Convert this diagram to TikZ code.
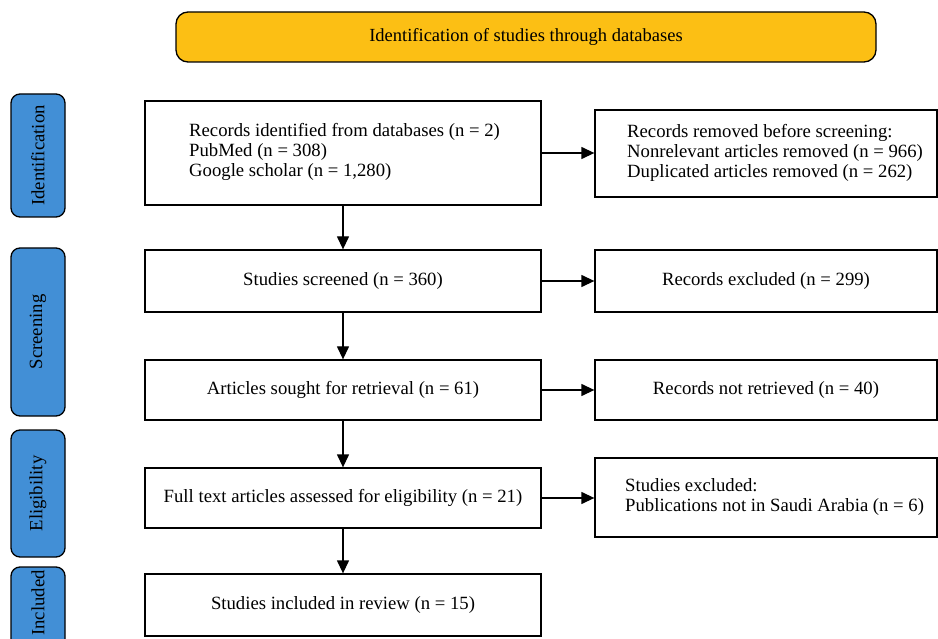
\documentclass[tikz,border=0pt]{standalone}
\usepackage{fontspec}
\setmainfont{Liberation Serif}
\usetikzlibrary{arrows.meta}
\definecolor{topfill}{HTML}{FCBF14}
\definecolor{sidefill}{HTML}{428FD6}
\newcommand{\bodyfont}{\fontsize{18.7}{20}\selectfont}
\begin{document}
\begin{tikzpicture}[x=1pt,y=-1pt,
  box/.style={draw=black,line width=1.3pt,minimum width=396pt,inner sep=0pt,font=\bodyfont},
  rbox/.style={draw=black,line width=1.3pt,minimum width=342pt,inner sep=0pt,font=\bodyfont},
  side/.style={draw=black,line width=1.3pt,fill=sidefill,rounded corners=9pt,minimum width=54pt,inner sep=0pt},
  sidetxt/.style={rotate=90,font=\bodyfont},
  txt/.style={font=\bodyfont,align=left,inner sep=0pt},
  arr/.style={line width=1.3pt,-{Triangle[length=13pt,width=12pt]}}]
\useasboundingbox (0,0) rectangle (938,639);
\clip (0,0) rectangle (938,639);
% top
\node[draw=black,line width=1.3pt,fill=topfill,rounded corners=12pt,minimum width=700pt,minimum height=50pt,font=\fontsize{18.5}{20}\selectfont] (top) at (526,37) {Identification of studies through databases};
% side labels
\node[side,minimum height=123pt] (s1) at (38,155.5) {};
\node[sidetxt] (s1t) at (s1.center) {Identification};
\node[side,minimum height=168pt] (s2) at (38,332) {};
\node[sidetxt] (s2t) at (s2.center) {Screening};
\node[side,minimum height=127pt] (s3) at (38,493.5) {};
\node[sidetxt] (s3t) at (s3.center) {Eligibility};
\node[side,minimum height=110pt] (s4) at (38,622) {};
\node[sidetxt] (s4t) at (38,603) {Included};
% main boxes
\node[box,minimum height=104pt] (b1) at (343,153) {};
\node[txt,anchor=west] (b1t) at (189,152) {Records identified from databases (n = 2)\\PubMed (n = 308)\\Google scholar (n = 1,280)};
\node[box,minimum height=62pt] (b2) at (343,281) {Studies screened (n = 360)};
\node[box,minimum height=60pt] (b3) at (343,390) {Articles sought for retrieval (n = 61)};
\node[box,minimum height=60pt] (b4) at (343,498) {Full text articles assessed for eligibility (n = 21)};
\node[box,minimum height=62pt] (b5) at (343,605) {Studies included in review (n = 15)};
% right boxes
\node[rbox,minimum height=87pt] (r1) at (766,153.5) {};
\node[txt,anchor=west] (r1t) at (627,152.5) {Records removed before screening:\\Nonrelevant articles removed (n = 966)\\Duplicated articles removed (n = 262)};
\node[rbox,minimum height=62pt] (r2) at (766,281) {Records excluded (n = 299)};
\node[rbox,minimum height=60pt] (r3) at (766,390) {Records not retrieved (n = 40)};
\node[rbox,minimum height=79pt] (r4) at (766,497.5) {};
\node[txt,anchor=west] (r4t) at (625,497) {Studies excluded:\\Publications not in Saudi Arabia (n = 6)};
% arrows
\draw[arr] (b1) -- (b2);
\draw[arr] (b2) -- (b3);
\draw[arr] (b3) -- (b4);
\draw[arr] (b4) -- (b5);
\draw[arr] (b1.east) -- (r1.west |- b1.east);
\draw[arr] (b2) -- (r2);
\draw[arr] (b3) -- (r3);
\draw[arr] (b4.east) -- (r4.west |- b4.east);
\end{tikzpicture}
\end{document}
